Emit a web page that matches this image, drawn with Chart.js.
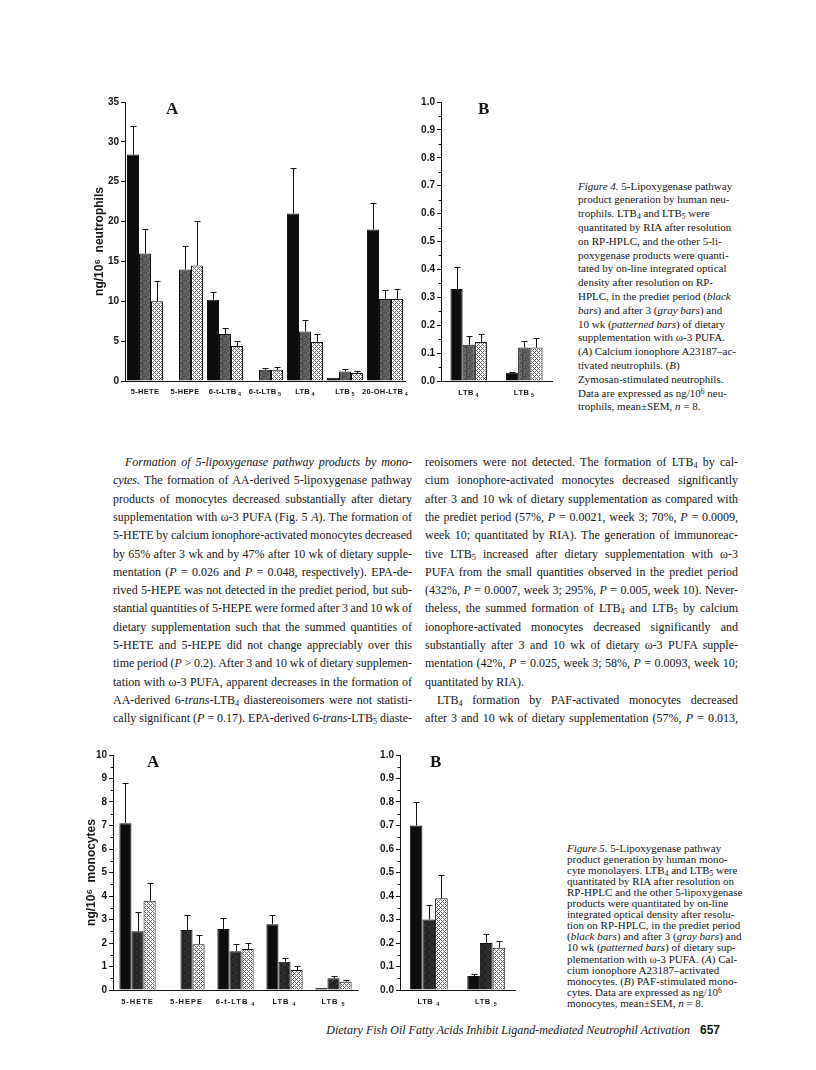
<!DOCTYPE html>
<html><head><meta charset="utf-8">
<script src="https://cdn.jsdelivr.net/npm/chart.js@4.4.0/dist/chart.umd.min.js"></script>
<style>
html,body{margin:0;padding:0;background:#fff;}
body{width:816px;height:1070px;position:relative;overflow:hidden;font-family:"Liberation Serif","Times New Roman",serif;color:#161616;}
canvas.cv{position:absolute;}
.panel{position:absolute;font-family:"Liberation Serif",serif;font-weight:bold;font-size:17px;line-height:17px;}
.ln{position:absolute;white-space:nowrap;font-size:12px;line-height:14px;}
.cap{position:absolute;white-space:nowrap;font-size:11px;line-height:13px;}
.foot{position:absolute;white-space:nowrap;font-size:12px;line-height:14px;font-style:italic;}
.pg{position:absolute;white-space:nowrap;font-family:"Liberation Sans",Arial,sans-serif;font-weight:bold;font-size:12px;line-height:14px;}
sub{font-size:0.68em;vertical-align:-0.3em;line-height:0}
sup{font-size:0.68em;vertical-align:0.45em;line-height:0}
</style></head>
<body>
<canvas id="f4a" class="cv"></canvas>
<canvas id="f4b" class="cv"></canvas>
<canvas id="f5a" class="cv"></canvas>
<canvas id="f5b" class="cv"></canvas>
<div class="panel" style="left:166px;top:100px">A</div>
<div class="panel" style="left:478px;top:100px">B</div>
<div class="panel" style="left:147px;top:753px">A</div>
<div class="panel" style="left:430px;top:753px">B</div>
<div id="text"></div>
<script>
// ---------- DATA ----------
const fig4aCategories = ['5-HETE','5-HEPE','6-t-LTB\u2084','6-t-LTB\u2085','LTB\u2084','LTB\u2085','20-OH-LTB\u2084'];
const fig4aPrediet      = [28.4, 0,    10.2, 0,   21.0, 0.4, 19.0];
const fig4aPredietSEM   = [3.6,  0,    1.0,  0,   5.7,  0,   3.3];
const fig4aWeek3        = [16.0, 14.0, 5.9,  1.4, 6.2,  1.2, 10.3];
const fig4aWeek3SEM     = [3.1,  2.9,  0.7,  0.2, 1.4,  0.25,1.1];
const fig4aWeek10       = [10.0, 14.5, 4.4,  1.4, 4.9,  1.0, 10.3];
const fig4aWeek10SEM    = [2.5,  5.6,  0.6,  0.3, 1.0,  0.3, 1.3];

const fig4bCategories = ['LTB\u2084','LTB\u2085'];
const fig4bPrediet    = [0.33, 0.03];
const fig4bPredietSEM = [0.08, 0.004];
const fig4bWeek3      = [0.13, 0.12];
const fig4bWeek3SEM   = [0.03, 0.025];
const fig4bWeek10     = [0.14, 0.12];
const fig4bWeek10SEM  = [0.03, 0.035];

const fig5aCategories = ['5-HETE','5-HEPE','6-t-LTB\u2084','LTB\u2084','LTB\u2085'];
const fig5aPrediet    = [7.1, 0,    2.6,  2.8,  0.08];
const fig5aPredietSEM = [1.7, 0,    0.45, 0.4,  0];
const fig5aWeek3      = [2.5, 2.55, 1.65, 1.2,  0.5];
const fig5aWeek3SEM   = [0.8, 0.65, 0.3,  0.15, 0.08];
const fig5aWeek10     = [3.8, 1.95, 1.75, 0.85, 0.35];
const fig5aWeek10SEM  = [0.75,0.4,  0.27, 0.17, 0.07];

const fig5bCategories = ['LTB\u2084','LTB\u2085'];
const fig5bPrediet    = [0.70, 0.06];
const fig5bPredietSEM = [0.10, 0.01];
const fig5bWeek3      = [0.30, 0.20];
const fig5bWeek3SEM   = [0.06, 0.04];
const fig5bWeek10     = [0.39, 0.18];
const fig5bWeek10SEM  = [0.10, 0.03];

const fig4aYTicks = {min:0, max:35, step:5, minor:0, decimals:0};
const fig4bYTicks = {min:0, max:1.0, step:0.1, minor:0.05, decimals:1};
const fig5aYTicks = {min:0, max:10, step:1, minor:0.5, decimals:0};
const fig5bYTicks = {min:0, max:1.0, step:0.1, minor:0.05, decimals:1};

// ---------- FILLS ----------
function grayTex(base, range){
  const c=document.createElement('canvas');c.width=c.height=8;const g=c.getContext('2d');
  for(let x=0;x<8;x++)for(let y=0;y<8;y++){
    const v=base+((x*37+y*91+x*y*13)%range);
    g.fillStyle='rgb('+v+','+v+','+v+')';g.fillRect(x,y,1,1);
  }
  return g.createPattern(c,'repeat');
}
function hatch(){
  const c=document.createElement('canvas');c.width=c.height=4;const g=c.getContext('2d');
  g.fillStyle='#fff';g.fillRect(0,0,4,4);g.fillStyle='#6a6a6a';
  [[0,0],[1,1],[2,2],[3,3],[1,3],[3,1]].forEach(p=>g.fillRect(p[0],p[1],1,1));
  return g.createPattern(c,'repeat');
}

// ---------- PLUGINS ----------
const errorBars={id:'errorBars',afterDatasetsDraw(chart){
  const ctx=chart.ctx,ys=chart.scales.y;
  chart.data.datasets.forEach((ds,di)=>{
    const meta=chart.getDatasetMeta(di);
    ds.sem.forEach((e,i)=>{
      if(!e)return;
      const b=meta.data[i];const x=Math.round(b.x)+0.5;
      const y0=ys.getPixelForValue(ds.data[i]);const y1=Math.round(ys.getPixelForValue(ds.data[i]+e))+0.5;
      ctx.save();ctx.strokeStyle='#111';ctx.lineWidth=1;ctx.beginPath();
      ctx.moveTo(x,y0);ctx.lineTo(x,y1);ctx.moveTo(x-3,y1);ctx.lineTo(x+3,y1);ctx.stroke();ctx.restore();
    });
  });
}};
const minorTicks={id:'minorTicks',afterDraw(chart,args,opts){
  if(!opts.step)return;
  const ys=chart.scales.y,ctx=chart.ctx,x=chart.chartArea.left;
  ctx.save();ctx.strokeStyle='#111';ctx.lineWidth=1;ctx.beginPath();
  const n=Math.round((ys.max-ys.min)/opts.step);
  for(let k=0;k<=n;k++){
    const v=ys.min+k*opts.step;
    const r=v/opts.major; if(Math.abs(r-Math.round(r))<1e-6)continue;
    const y=Math.round(ys.getPixelForValue(v))+0.5;
    ctx.moveTo(x-2.5,y);ctx.lineTo(x,y);
  }
  ctx.stroke();ctx.restore();
}};
// category labels with real subscripts, positioned by the x scale
const subMap={'\u2084':'4','\u2085':'5'};
const subLabels={id:'subLabels',afterDraw(chart,args,opts){
  const ctx=chart.ctx,xs=chart.scales.x;
  const y=chart.chartArea.bottom+opts.dy;
  ctx.save();ctx.fillStyle='#161616';ctx.textBaseline='middle';ctx.textAlign='left';
  ctx.letterSpacing=opts.ls+'px';
  chart.data.labels.forEach((lab,i)=>{
    let base=lab,sub='';
    const last=lab.slice(-1);
    if(subMap[last]){base=lab.slice(0,-1);sub=subMap[last];}
    ctx.font='bold '+opts.size+'px "Liberation Sans", Arial, sans-serif';
    const wb=ctx.measureText(base).width;
    ctx.font='bold '+(opts.size*0.72)+'px "Liberation Sans", Arial, sans-serif';
    const ws=sub?ctx.measureText(sub).width+opts.gap:0;
    const x0=xs.getPixelForValue(i)-(wb+ws)/2;
    ctx.font='bold '+opts.size+'px "Liberation Sans", Arial, sans-serif';
    ctx.fillText(base,x0,y);
    if(sub){ctx.font='bold '+(opts.size*0.72)+'px "Liberation Sans", Arial, sans-serif';ctx.fillText(sub,x0+wb+opts.gap,y+opts.size*0.35);}
  });
  ctx.restore();
}};

function makeChart(id,geo,cats,series,yt,yTitle){
  const cv=document.getElementById(id);
  cv.width=geo.w;cv.height=geo.h;
  cv.style.left=geo.left+'px';cv.style.top=geo.top+'px';
  cv.style.width=geo.w+'px';cv.style.height=geo.h+'px';
  return new Chart(cv,{
    type:'bar',
    data:{labels:cats,datasets:series.map(s=>({data:s.values,sem:s.sem,backgroundColor:s.fill,borderColor:'#111',borderWidth:1,
      categoryPercentage:geo.cat,barPercentage:1}))},
    options:{
      responsive:false,animation:false,devicePixelRatio:1,
      layout:{padding:{top:geo.pt,right:geo.pr,left:0,bottom:0}},
      plugins:{legend:{display:false},tooltip:{enabled:false},minorTicks:{step:yt.minor,major:yt.step},
        subLabels:{dy:geo.ly,size:geo.xf,ls:geo.ls,gap:geo.gap}},
      scales:{
        x:{grid:{display:false,drawTicks:false},border:{color:'#111',width:1},
           ticks:{display:false},
           afterFit(s){s.height=geo.xh;}},
        y:{min:yt.min,max:yt.max,
           ticks:{stepSize:yt.step,padding:2,color:'#161616',font:{family:'Liberation Sans, Arial, sans-serif',weight:'bold',size:10},
             callback:v=>Number(v).toFixed(yt.decimals)},
           grid:{drawOnChartArea:false,drawTicks:true,tickLength:4,color:'#111'},
           border:{color:'#111',width:1},
           title:{display:!!yTitle,text:yTitle,color:'#161616',padding:0,font:{family:'Liberation Sans, DejaVu Sans, sans-serif',weight:'bold',size:12,lineHeight:1}},
           afterFit(s){s.width=geo.aw;}}
      }
    },
    plugins:[errorBars,minorTicks,subLabels]
  });
}

const black='#0d0d0d';
const hat=hatch();
makeChart('f4a',{left:94,top:92,w:315,h:309,aw:31,pt:10,pr:4,xh:20,ly:11,xf:7.5,ls:0.3,gap:1.5,cat:0.9},fig4aCategories,[
  {values:fig4aPrediet,sem:fig4aPredietSEM,fill:black},
  {values:fig4aWeek3,sem:fig4aWeek3SEM,fill:grayTex(70,45)},
  {values:fig4aWeek10,sem:fig4aWeek10SEM,fill:hat}],fig4aYTicks,'ng/10\u2076  neutrophils');
makeChart('f4b',{left:410,top:92,w:146,h:309,aw:31,pt:10,pr:4,xh:20,ly:12,xf:7.5,ls:0.6,gap:1.5,cat:0.66},fig4bCategories,[
  {values:fig4bPrediet,sem:fig4bPredietSEM,fill:black},
  {values:fig4bWeek3,sem:fig4bWeek3SEM,fill:grayTex(70,45)},
  {values:fig4bWeek10,sem:fig4bWeek10SEM,fill:hat}],fig4bYTicks,'');
makeChart('f5a',{left:86,top:745,w:276,h:265,aw:27,pt:10,pr:4,xh:20,ly:12,xf:7.5,ls:1,gap:3,cat:0.74},fig5aCategories,[
  {values:fig5aPrediet,sem:fig5aPredietSEM,fill:black},
  {values:fig5aWeek3,sem:fig5aWeek3SEM,fill:grayTex(28,30)},
  {values:fig5aWeek10,sem:fig5aWeek10SEM,fill:hat}],fig5aYTicks,'ng/10\u2076  monocytes');
makeChart('f5b',{left:370,top:745,w:149,h:265,aw:30,pt:10,pr:4,xh:20,ly:12,xf:7.5,ls:0.6,gap:3,cat:0.66},fig5bCategories,[
  {values:fig5bPrediet,sem:fig5bPredietSEM,fill:black},
  {values:fig5bWeek3,sem:fig5bWeek3SEM,fill:grayTex(28,30)},
  {values:fig5bWeek10,sem:fig5bWeek10SEM,fill:hat}],fig5bYTicks,'');

// ---------- TEXT ----------
const leftCol=[
 ['<i>Formation of 5-lipoxygenase pathway products by mono-</i>',1,12],
 ['<i>cytes.</i> The formation of AA-derived 5-lipoxygenase pathway',1,0],
 ['products of monocytes decreased substantially after dietary',1,0],
 ['supplementation with ω-3 PUFA (Fig. 5 <i>A</i>). The formation of',1,0],
 ['5-HETE by calcium ionophore-activated monocytes decreased',1,0],
 ['by 65% after 3 wk and by 47% after 10 wk of dietary supple-',1,0],
 ['mentation (<i>P</i> = 0.026 and <i>P</i> = 0.048, respectively). EPA-de-',1,0],
 ['rived 5-HEPE was not detected in the prediet period, but sub-',1,0],
 ['stantial quantities of 5-HEPE were formed after 3 and 10 wk of',1,0],
 ['dietary supplementation such that the summed quantities of',1,0],
 ['5-HETE and 5-HEPE did not change appreciably over this',1,0],
 ['time period (<i>P</i> &gt; 0.2). After 3 and 10 wk of dietary supplemen-',1,0],
 ['tation with ω-3 PUFA, apparent decreases in the formation of',1,0],
 ['AA-derived 6-<i>trans</i>-LTB<sub>4</sub> diastereoisomers were not statisti-',1,0],
 ['cally significant (<i>P</i> = 0.17). EPA-derived 6-<i>trans</i>-LTB<sub>5</sub> diaste-',1,0]];
const rightCol=[
 ['reoisomers were not detected. The formation of LTB<sub>4</sub> by cal-',1,0],
 ['cium ionophore-activated monocytes decreased significantly',1,0],
 ['after 3 and 10 wk of dietary supplementation as compared with',1,0],
 ['the prediet period (57%, <i>P</i> = 0.0021, week 3; 70%, <i>P</i> = 0.0009,',1,0],
 ['week 10; quantitated by RIA). The generation of immunoreac-',1,0],
 ['tive LTB<sub>5</sub> increased after dietary supplementation with ω-3',1,0],
 ['PUFA from the small quantities observed in the prediet period',1,0],
 ['(432%, <i>P</i> = 0.0007, week 3; 295%, <i>P</i> = 0.005, week 10). Never-',1,0],
 ['theless, the summed formation of LTB<sub>4</sub> and LTB<sub>5</sub> by calcium',1,0],
 ['ionophore-activated monocytes decreased significantly and',1,0],
 ['substantially after 3 and 10 wk of dietary ω-3 PUFA supple-',1,0],
 ['mentation (42%, <i>P</i> = 0.025, week 3; 58%, <i>P</i> = 0.0093, week 10;',1,0],
 ['quantitated by RIA).',0,0],
 ['LTB<sub>4</sub> formation by PAF-activated monocytes decreased',1,12],
 ['after 3 and 10 wk of dietary supplementation (57%, <i>P</i> = 0.013,',1,0]];
const cap4=[
 '<i>Figure 4.</i> 5-Lipoxygenase pathway','product generation by human neu-','trophils. LTB<sub>4</sub> and LTB<sub>5</sub> were',
 'quantitated by RIA after resolution','on RP-HPLC, and the other 5-li-','poxygenase products were quanti-',
 'tated by on-line integrated optical','density after resolution on RP-','HPLC, in the prediet period (<i>black</i>',
 '<i>bars</i>) and after 3 (<i>gray bars</i>) and','10 wk (<i>patterned bars</i>) of dietary','supplementation with ω-3 PUFA.',
 '(<i>A</i>) Calcium ionophore A23187–ac-','tivated neutrophils. (<i>B</i>)','Zymosan-stimulated neutrophils.',
 'Data are expressed as ng/10<sup>6</sup> neu-','trophils, mean±SEM, <i>n</i> = 8.'];
const cap5=[
 '<i>Figure 5.</i> 5-Lipoxygenase pathway','product generation by human mono-','cyte monolayers. LTB<sub>4</sub> and LTB<sub>5</sub> were',
 'quantitated by RIA after resolution on','RP-HPLC and the other 5-lipoxygenase','products were quantitated by on-line',
 'integrated optical density after resolu-','tion on RP-HPLC, in the prediet period','(<i>black bars</i>) and after 3 (<i>gray bars</i>) and',
 '10 wk (<i>patterned bars</i>) of dietary sup-','plementation with ω-3 PUFA. (<i>A</i>) Cal-','cium ionophore A23187–activated',
 'monocytes. (<i>B</i>) PAF-stimulated mono-','cytes. Data are expressed as ng/10<sup>6</sup>','monocytes, mean±SEM, <i>n</i> = 8.'];

const T=document.getElementById('text');
function addLine(cls,html,x,yc,lh,width,just){
  const d=document.createElement('div');d.className=cls;d.innerHTML=html;
  d.style.left=x+'px';d.style.top=(yc-lh/2)+'px';T.appendChild(d);
  if(just&&width){
    const nat=d.getBoundingClientRect().width;const sp=(d.textContent.match(/ /g)||[]).length;
    if(sp)d.style.wordSpacing=((width-nat)/sp)+'px';
  }
  return d;
}
const bodyTop=462, bodyStep=18.3;
leftCol.forEach((l,i)=>addLine('ln',l[0],113+l[2],bodyTop+i*bodyStep,14,299-l[2],l[1]));
rightCol.forEach((l,i)=>addLine('ln',l[0],425+l[2],bodyTop+i*bodyStep,14,313-l[2],l[1]));
cap4.forEach((l,i)=>addLine('cap',l,578,186+i*13.8,13,0,0));
cap5.forEach((l,i)=>addLine('cap',l,567,848+i*11.1,13,0,0));
const ft=addLine('foot','Dietary Fish Oil Fatty Acids Inhibit Ligand-mediated Neutrophil Activation',338,1030,14,0,0);
ft.style.left=(690-ft.getBoundingClientRect().width)+'px';
addLine('pg','657',700,1030,14,0,0);
</script>
</body></html>
